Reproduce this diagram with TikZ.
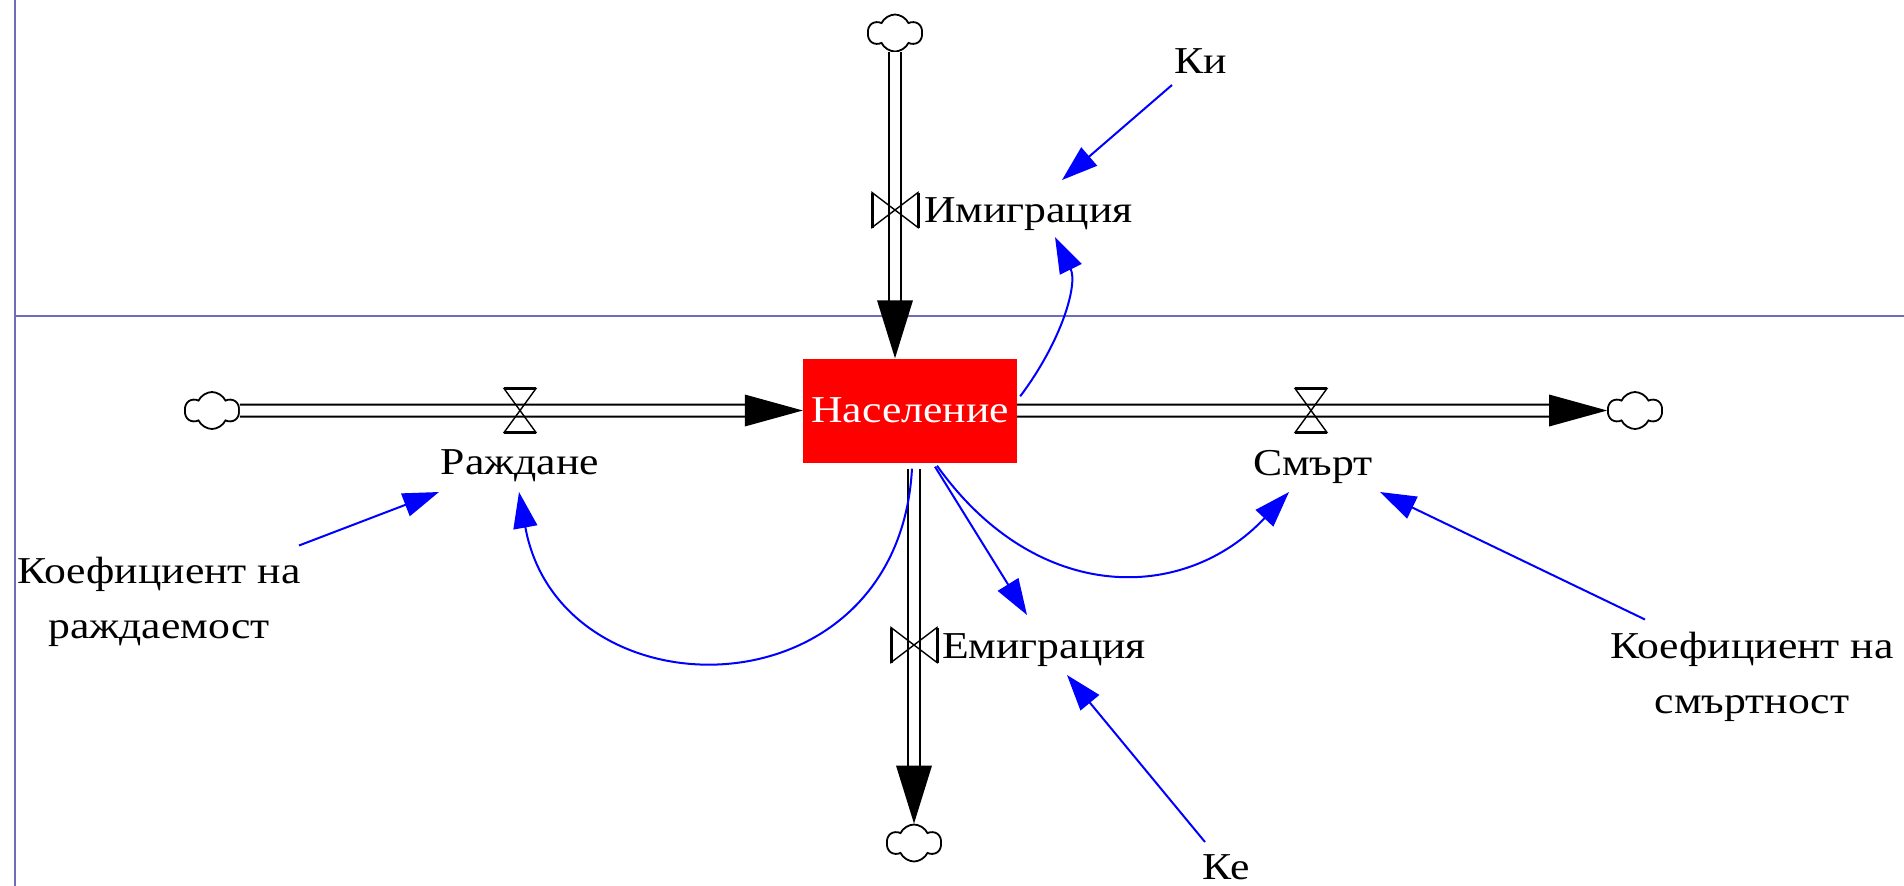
\documentclass[tikz,border=0pt]{standalone}
\usepackage{fontspec}
\setmainfont{Liberation Serif}[FakeStretch=1.15]
\usetikzlibrary{arrows.meta,calc,shapes.symbols}
\definecolor{framecol}{RGB}{110,110,180}
\definecolor{boxred}{RGB}{255,0,0}
\definecolor{linkblue}{RGB}{0,0,255}
\tikzset{
  lbl/.style={inner sep=2pt, font=\fontsize{38pt}{55pt}\selectfont},
  stockbox/.style={fill=boxred, text=white, minimum width=214pt, minimum height=104pt, inner sep=0pt, font=\fontsize{38pt}{55pt}\selectfont},
  cloudnode/.style={cloud, cloud puffs=6, cloud puff arc=130, aspect=1.4, draw, line width=1.8pt, minimum width=54pt, minimum height=37pt, inner sep=0pt, fill=white},
  pipe/.style={draw=black, line width=2pt, double=white, double distance=10pt},
  flowhead/.style={fill=black},
  link/.style={draw=linkblue, line width=2pt, -{Triangle[length=36pt,width=24pt]}},
  frameline/.style={draw=framecol, line width=1.5pt},
  hvalve/.pic={
    \draw[line width=1.4pt] (-16,-22) -- (16,-22) -- (0,0) -- cycle (-16,22) -- (16,22) -- (0,0) -- cycle;
    \draw[line width=3pt] (-16,-22) -- (16,-22) (-16,22) -- (16,22);
  },
  vvalve/.pic={
    \draw[line width=1.4pt] (-23,-17.5) -- (-23,17.5) -- (0,0) -- cycle (23,-17.5) -- (23,17.5) -- (0,0) -- cycle;
    \draw[line width=3pt] (-23,-17.5) -- (-23,17.5) (23,-17.5) -- (23,17.5);
  },
}
\begin{document}
\begin{tikzpicture}[x=1pt,y=-1pt]
\useasboundingbox (0,0) rectangle (1904,886);
% frame lines
\draw[frameline] (15,0) -- (15,886);
\draw[frameline] (15,316) -- (1904,316);
% stock and clouds
\node[stockbox] (box) at (910,410.5) {Население};
\node[cloudnode] (cloudL) at (212,410.5) {};
\node[cloudnode] (cloudR) at (1635,410.5) {};
\node[cloudnode] (cloudT) at (895,33) {};
\node[cloudnode] (cloudB) at (914,843) {};
% pipes
\draw[pipe] (cloudL.east) -- ($(box.west)+(-57,0)$);
\fill[flowhead] (box.west) -- ++(-58,-16) -- ++(0,32) -- cycle;
\draw[pipe] (box.east) -- ($(cloudR.west)+(-57,0)$);
\fill[flowhead] (cloudR.west) -- ++(-58,-16) -- ++(0,32) -- cycle;
\draw[pipe] (cloudT.south) -- ($(box.north)+(-15,-57)$);
\fill[flowhead] ($(box.north)+(-15,0)$) -- ++(-18,-58) -- ++(36,0) -- cycle;
\draw[pipe] ($(box.south)+(4,6)$) -- ($(cloudB.north)+(0,-57)$);
\fill[flowhead] (cloudB.north) -- ++(-18,-58) -- ++(36,0) -- cycle;
% valves
\pic at (520,410.5) {hvalve};
\pic at (1311,410.5) {hvalve};
\pic at (895,210) {vvalve};
\pic at (914,645) {vvalve};
% labels
\node[lbl, anchor=base] (rajd) at (520,474) {Раждане};
\node[lbl, anchor=base] (smrt) at (1313,475) {Смърт};
\node[lbl, anchor=base west] (imig) at (922,222) {Имиграция};
\node[lbl, anchor=base west] (emig) at (940,658) {Емиграция};
\node[lbl, anchor=base] (ki) at (1201,73) {Ки};
\node[lbl, anchor=base] (ke) at (1226,879) {Ке};
\node[lbl, align=center] (koefR) at (159,601.5) {Коефициент на\\раждаемост};
\node[lbl, align=center] (koefS) at (1752,676.5) {Коефициент на\\смъртност};
% links
\draw[link] ($(ki.base)+(-29,12)$) -- ($(imig.base west)+(140,-42)$);
\draw[link] ($(box.north east)+(3,38)$) .. controls ($(box.north east)+(45,-18)$) and ($(imig.base west)+(156,62)$) .. ($(imig.base west)+(133,15)$);
\draw[link] ($(box.south)+(2,6)$) .. controls ($(box.south)+(-12,257)$) and ($(rajd.base)+(40,245)$) .. ($(rajd.base)+(-1,18)$);
\draw[link] ($(box.south)+(27,3)$) .. controls ($(box.south)+(127,143)$) and ($(smrt.base)+(-128,128)$) .. ($(smrt.base)+(-24,17)$);
\draw[link] ($(box.south)+(25,4)$) -- ($(emig.base west)+(87,-43)$);
\draw[link] ($(ke.base)+(-21,-37)$) -- ($(emig.base west)+(127,17)$);
\draw[link] ($(koefR.center)+(140,-56)$) -- ($(rajd.base)+(-81,18)$);
\draw[link] ($(koefS.center)+(-107,-57)$) -- ($(smrt.base)+(67,17)$);
\end{tikzpicture}
\end{document}
